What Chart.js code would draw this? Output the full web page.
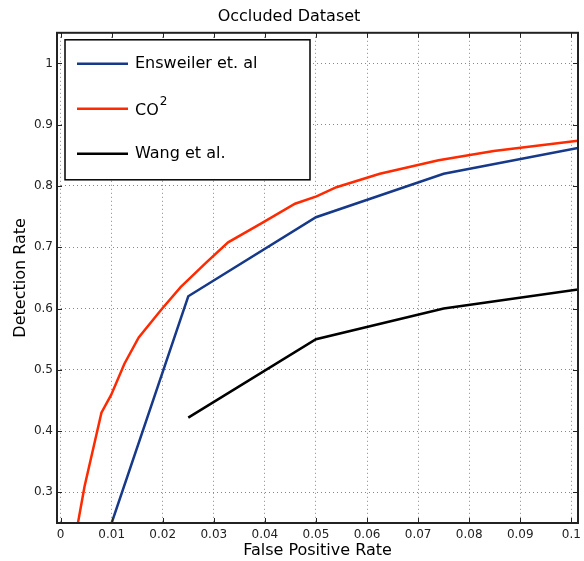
<!DOCTYPE html>
<html lang="en">
<head>
    <meta charset="UTF-8">
    <script src="https://cdn.jsdelivr.net/npm/chart.js"></script>
    <title>Occluded Dataset</title>
    <style>
        body { margin: 0; background: #fff; }
        #wrap { width: 584px; height: 561px; }
    </style>
    <script>
        // series values
        const seriesNames = ['Ensweiler et. al', 'CO²', 'Wang et al.'];
        const seriesColors = ['#16398a', '#ff2a00', '#000000'];

        const enswX = [0.01, 0.025, 0.05, 0.075, 0.1013];
        const enswY = [0.25, 0.62, 0.749, 0.82, 0.862];

        const co2X = [0.0034, 0.0047, 0.008, 0.0099, 0.0125, 0.0153, 0.0197, 0.0235, 0.0285, 0.0328, 0.0393, 0.0459, 0.0501, 0.054, 0.0625, 0.074, 0.0848, 0.1013];
        const co2Y = [0.25, 0.31, 0.43, 0.459, 0.51, 0.553, 0.598, 0.635, 0.675, 0.708, 0.739, 0.771, 0.783, 0.798, 0.82, 0.842, 0.857, 0.874];

        const wangX = [0.025, 0.05, 0.075, 0.1013];
        const wangY = [0.422, 0.55, 0.6, 0.631];

        // tick labels
        const xTicks = [0, 0.01, 0.02, 0.03, 0.04, 0.05, 0.06, 0.07, 0.08, 0.09, 0.1];
        const xTickLabels = ['0', '0.01', '0.02', '0.03', '0.04', '0.05', '0.06', '0.07', '0.08', '0.09', '0.1'];
        const yTicks = [0.3, 0.4, 0.5, 0.6, 0.7, 0.8, 0.9, 1];
        const yTickLabels = ['0.3', '0.4', '0.5', '0.6', '0.7', '0.8', '0.9', '1'];

        function toPoints(xs, ys){
            let pts = [];
            for(let i = 0; i < xs.length; i++){
                pts.push({x: xs[i], y: ys[i]});
            }
            return pts;
        }

        // frame + inward ticks, matplotlib style
        const framePlugin = {
            id: 'frame',
            afterDatasetsDraw(chart){
                const ctx = chart.ctx;
                const a = chart.chartArea;
                const xs = chart.scales.x, ys = chart.scales.y;
                ctx.save();
                ctx.strokeStyle = '#222';
                ctx.lineWidth = 1;
                ctx.beginPath();
                xs.ticks.forEach(t => {
                    let px = Math.round(xs.getPixelForValue(t.value)) + 0.5;
                    ctx.moveTo(px, a.bottom); ctx.lineTo(px, a.bottom - 5);
                    ctx.moveTo(px, a.top); ctx.lineTo(px, a.top + 5);
                });
                ys.ticks.forEach(t => {
                    let py = Math.round(ys.getPixelForValue(t.value)) + 0.5;
                    ctx.moveTo(a.left, py); ctx.lineTo(a.left + 5, py);
                    ctx.moveTo(a.right, py); ctx.lineTo(a.right - 5, py);
                });
                ctx.stroke();
                ctx.lineWidth = 2;
                ctx.strokeRect(a.left, a.top, a.right - a.left, a.bottom - a.top);
                ctx.restore();
            }
        };

        // legend box inside the plot, upper left
        const legendPlugin = {
            id: 'innerLegend',
            afterDraw(chart){
                const ctx = chart.ctx;
                const a = chart.chartArea;
                const bx = a.left + 8, by = a.top + 7, bw = 245, bh = 140;
                ctx.save();
                ctx.fillStyle = '#fff';
                ctx.fillRect(bx, by, bw, bh);
                ctx.strokeStyle = '#000';
                ctx.lineWidth = 1.5;
                ctx.strokeRect(bx, by, bw, bh);
                ctx.font = '16px "DejaVu Sans"';
                ctx.textBaseline = 'middle';
                chart.data.datasets.forEach((ds, i) => {
                    let ry = by + 24 + i * 45;
                    ctx.strokeStyle = ds.borderColor;
                    ctx.lineWidth = 2.5;
                    ctx.beginPath();
                    ctx.moveTo(bx + 12, ry); ctx.lineTo(bx + 63, ry);
                    ctx.stroke();
                    ctx.fillStyle = '#000';
                    let tx = bx + 70;
                    let lbl = ds.label;
                    if(lbl.indexOf('²') >= 0){
                        let base = lbl.replace('²', '');
                        ctx.fillText(base, tx, ry + 2);
                        let w = ctx.measureText(base).width;
                        ctx.font = '12px "DejaVu Sans"';
                        ctx.fillText('2', tx + w + 1, ry - 7);
                        ctx.font = '16px "DejaVu Sans"';
                    } else {
                        ctx.fillText(lbl, tx, ry);
                    }
                });
                ctx.restore();
            }
        };

        window.addEventListener('load', function(){
            const ctx = document.getElementById('myChart');
            const series = [
                toPoints(enswX, enswY),
                toPoints(co2X, co2Y),
                toPoints(wangX, wangY)
            ];
            new Chart(ctx, {
                type: 'scatter',
                data: {
                    datasets: series.map((pts, i) => ({
                        label: seriesNames[i],
                        data: pts,
                        showLine: true,
                        borderColor: seriesColors[i],
                        backgroundColor: seriesColors[i],
                        borderWidth: 2.5,
                        pointRadius: 0,
                        tension: 0
                    }))
                },
                options: {
                    responsive: false,
                    animation: false,
                    devicePixelRatio: 1,
                    layout: { padding: { left: 0, right: 6, top: 0, bottom: 0 } },
                    plugins: {
                        legend: { display: false },
                        tooltip: { enabled: false },
                        title: {
                            display: true,
                            text: 'Occluded Dataset',
                            color: '#000',
                            font: { family: 'DejaVu Sans', size: 16, weight: 'normal' },
                            padding: { top: 7, bottom: 6.6 }
                        }
                    },
                    scales: {
                        x: {
                            type: 'linear',
                            min: -0.0007,
                            max: 0.1013,
                            afterBuildTicks: s => { s.ticks = xTicks.map(v => ({value: v})); },
                            afterFit: s => { s.height = 38; s.paddingLeft = 0; s.paddingRight = 0; },
                            ticks: {
                                callback: (v, i) => xTickLabels[i],
                                color: '#222',
                                font: { family: 'DejaVu Sans', size: 12 },
                                padding: 5,
                                maxRotation: 0,
                                autoSkip: false
                            },
                            grid: { color: '#888', lineWidth: 1, drawTicks: false },
                            border: { display: false, dash: [1, 3] },
                            title: {
                                display: true,
                                text: 'False Positive Rate',
                                color: '#000',
                                font: { family: 'DejaVu Sans', size: 16 },
                                padding: { top: 0, bottom: 1 }
                            }
                        },
                        y: {
                            type: 'linear',
                            min: 0.25,
                            max: 1.05,
                            afterBuildTicks: s => { s.ticks = yTicks.map(v => ({value: v})); },
                            afterFit: s => { s.width = 57; s.paddingTop = 0; s.paddingBottom = 0; },
                            ticks: {
                                callback: (v, i) => yTickLabels[i],
                                color: '#222',
                                font: { family: 'DejaVu Sans', size: 12 },
                                padding: 4,
                                autoSkip: false
                            },
                            grid: { color: '#888', lineWidth: 1, drawTicks: false },
                            border: { display: false, dash: [1, 3] },
                            title: {
                                display: true,
                                text: 'Detection Rate',
                                color: '#000',
                                font: { family: 'DejaVu Sans', size: 16 },
                                padding: { top: 11, bottom: 0 }
                            }
                        }
                    }
                },
                plugins: [framePlugin, legendPlugin]
            });
        });
    </script>
</head>
<body>
    <div id="wrap">
        <canvas id="myChart" width="584" height="561"></canvas>
    </div>
</body>
</html>
